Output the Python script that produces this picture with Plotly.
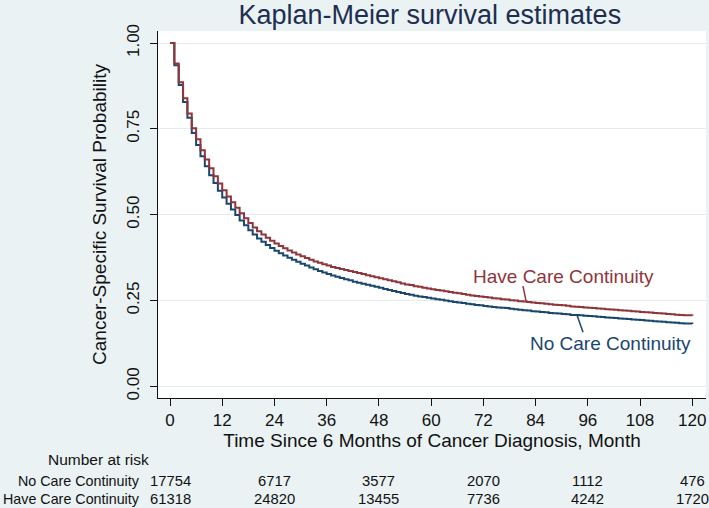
import plotly.graph_objects as go

months = list(range(0, 121))

surv_no_care = [
    1.000, 0.935, 0.878, 0.828, 0.782, 0.738, 0.703, 0.670, 0.641, 0.615,
    0.592, 0.570, 0.550, 0.532, 0.515, 0.499, 0.483, 0.469, 0.455, 0.442,
    0.431, 0.421, 0.412, 0.403, 0.395, 0.388, 0.381, 0.375, 0.369, 0.363,
    0.357, 0.352, 0.346, 0.341, 0.336, 0.332, 0.327, 0.323, 0.319, 0.316,
    0.312, 0.309, 0.305, 0.302, 0.299, 0.296, 0.293, 0.290, 0.287, 0.284,
    0.281, 0.278, 0.275, 0.272, 0.269, 0.267, 0.264, 0.262, 0.260, 0.258,
    0.256, 0.254, 0.252, 0.250, 0.248, 0.246, 0.244, 0.243, 0.241, 0.239,
    0.237, 0.236, 0.234, 0.233, 0.231, 0.230, 0.229, 0.228, 0.226, 0.225,
    0.223, 0.222, 0.221, 0.219, 0.218, 0.217, 0.216, 0.214, 0.213, 0.212,
    0.211, 0.210, 0.208, 0.208, 0.207, 0.206, 0.205, 0.204, 0.203, 0.202,
    0.201, 0.200, 0.199, 0.198, 0.197, 0.196, 0.195, 0.194, 0.193, 0.192,
    0.191, 0.190, 0.189, 0.188, 0.187, 0.186, 0.185, 0.184, 0.183, 0.183,
    0.182,
]

surv_have_care = [
    1.000, 0.940, 0.886, 0.839, 0.795, 0.752, 0.720, 0.688, 0.661, 0.635,
    0.612, 0.591, 0.571, 0.553, 0.536, 0.520, 0.504, 0.490, 0.476, 0.463,
    0.452, 0.442, 0.433, 0.424, 0.416, 0.409, 0.402, 0.396, 0.390, 0.384,
    0.379, 0.374, 0.369, 0.364, 0.360, 0.356, 0.352, 0.348, 0.345, 0.342,
    0.339, 0.336, 0.333, 0.330, 0.327, 0.324, 0.321, 0.318, 0.315, 0.312,
    0.309, 0.306, 0.303, 0.300, 0.297, 0.295, 0.292, 0.290, 0.287, 0.285,
    0.283, 0.281, 0.279, 0.277, 0.275, 0.273, 0.271, 0.269, 0.267, 0.265,
    0.263, 0.262, 0.260, 0.259, 0.257, 0.256, 0.254, 0.253, 0.251, 0.250,
    0.248, 0.247, 0.246, 0.244, 0.243, 0.242, 0.241, 0.239, 0.238, 0.237,
    0.236, 0.235, 0.233, 0.232, 0.231, 0.230, 0.229, 0.228, 0.227, 0.226,
    0.225, 0.224, 0.223, 0.222, 0.221, 0.220, 0.219, 0.218, 0.217, 0.216,
    0.215, 0.214, 0.213, 0.212, 0.211, 0.210, 0.209, 0.208, 0.207, 0.207,
    0.206,
]

x_ticks = [0, 12, 24, 36, 48, 60, 72, 84, 96, 108, 120]
y_ticks = [0.00, 0.25, 0.50, 0.75, 1.00]
y_tick_labels = ["0.00", "0.25", "0.50", "0.75", "1.00"]

risk_times = [0, 24, 48, 72, 96, 120]
risk_no_care = [17754, 6717, 3577, 2070, 1112, 476]
risk_have_care = [61318, 24820, 13455, 7736, 4242, 1720]
group_names = ["No Care Continuity", "Have Care Continuity"]

NAVY = "#1A476F"
MAROON = "#90353B"
BG = "#EAF2F3"
FONT = "Liberation Sans, Arial, sans-serif"
TXT = "#111111"

fig = go.Figure()
fig.add_trace(go.Scatter(x=months, y=surv_no_care, mode="lines",
                         line=dict(color=NAVY, width=2, shape="hv"),
                         name=group_names[0], showlegend=False))
fig.add_trace(go.Scatter(x=months, y=surv_have_care, mode="lines",
                         line=dict(color=MAROON, width=2, shape="hv"),
                         name=group_names[1], showlegend=False))

annotations = []
annotations.append(dict(x=90.5, y=0.3186, xref="x", yref="y", text=group_names[1],
                        showarrow=False, font=dict(family=FONT, size=19, color=MAROON),
                        xanchor="center", yanchor="middle"))
annotations.append(dict(x=101.1, y=0.126, xref="x", yref="y", text=group_names[0],
                        showarrow=False, font=dict(family=FONT, size=19, color=NAVY),
                        xanchor="center", yanchor="middle"))

annotations.append(dict(x=-0.205, y=-0.168, xref="paper", yref="paper", text="Number at risk",
                        showarrow=False, font=dict(family=FONT, size=15.5, color=TXT),
                        xanchor="left", yanchor="middle"))
row_y = [-0.227, -0.275]
for name, ry in zip(group_names, row_y):
    annotations.append(dict(x=-0.030, y=ry, xref="paper", yref="paper", text=name,
                            showarrow=False, font=dict(family=FONT, size=14.3, color=TXT),
                            xanchor="right", yanchor="middle"))
for vals, ry in zip([risk_no_care, risk_have_care], row_y):
    for t, v in zip(risk_times, vals):
        annotations.append(dict(x=t, y=ry, xref="x", yref="paper", text=str(v),
                                showarrow=False, font=dict(family=FONT, size=14.8, color=TXT),
                                xanchor="center", yanchor="middle"))

shapes = [
    dict(type="line", xref="x", yref="y", x0=81.1, y0=0.292, x1=81.8, y1=0.249,
         line=dict(color=MAROON, width=1.5)),
    dict(type="line", xref="x", yref="y", x0=93.5, y0=0.208, x1=94.9, y1=0.158,
         line=dict(color=NAVY, width=1.5)),
]

fig.update_layout(
    width=709, height=508,
    margin=dict(l=158, r=3, t=31, b=110),
    paper_bgcolor=BG, plot_bgcolor="white",
    font=dict(family=FONT, color=TXT),
    title=dict(text="Kaplan-Meier survival estimates", x=0.496, xref="paper",
               y=1 - 15 / 508, yref="container", xanchor="center", yanchor="middle",
               font=dict(family=FONT, size=27, color="#1E2E52")),
    annotations=annotations, shapes=shapes,
    showlegend=False,
)
fig.update_xaxes(range=[-2.757, 123.15], tickvals=x_ticks, ticks="outside", ticklen=7,
                 tickcolor=TXT, showgrid=False, zeroline=False, showline=True,
                 linecolor=TXT, linewidth=1, tickfont=dict(size=17), automargin=False,
                 title=dict(text="Time Since 6 Months of Cancer Diagnosis, Month",
                            font=dict(size=19), standoff=0))
fig.update_yaxes(range=[-0.0338, 1.035], tickvals=y_ticks, ticktext=y_tick_labels,
                 tickangle=-90, ticks="outside", ticklen=7, tickcolor=TXT,
                 showgrid=True, gridcolor="#E3ECEE", gridwidth=1, zeroline=False,
                 showline=True, linecolor=TXT, linewidth=1, tickfont=dict(size=17),
                 ticklabelstandoff=4, automargin=False,
                 title=dict(text="Cancer-Specific Survival Probability",
                            font=dict(size=19), standoff=12))

fig.write_html("out.html", config={"displayModeBar": False},
               post_script="document.body.style.margin='0px';")
